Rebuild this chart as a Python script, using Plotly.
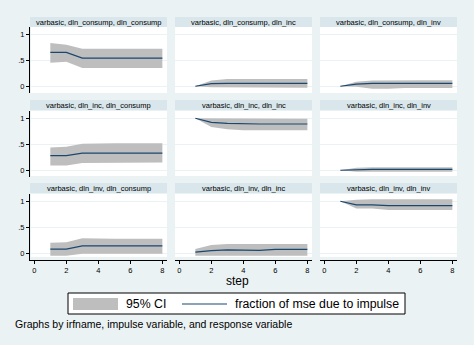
import plotly.graph_objects as go

W, H = 474, 345

steps = [1, 2, 3, 4, 5, 6, 7, 8]
irfname = "varbasic"
variables = ["dln_consump", "dln_inc", "dln_inv"]

# impulse dln_consump
cc_fevd = [0.65, 0.65, 0.54, 0.54, 0.54, 0.54, 0.54, 0.54]
cc_lo = [0.45, 0.47, 0.35, 0.35, 0.35, 0.35, 0.35, 0.35]
cc_hi = [0.83, 0.80, 0.72, 0.72, 0.72, 0.72, 0.72, 0.72]
ci_fevd = [0.0, 0.05, 0.055, 0.055, 0.055, 0.055, 0.055, 0.055]
ci_lo = [0.0, -0.02, -0.03, -0.03, -0.03, -0.03, -0.03, -0.03]
ci_hi = [0.0, 0.11, 0.14, 0.14, 0.14, 0.14, 0.14, 0.14]
cv_fevd = [0.0, 0.04, 0.055, 0.055, 0.055, 0.055, 0.055, 0.055]
cv_lo = [0.0, -0.01, -0.05, -0.05, -0.035, -0.035, -0.035, -0.035]
cv_hi = [0.0, 0.085, 0.11, 0.115, 0.115, 0.115, 0.115, 0.115]
# impulse dln_inc
ic_fevd = [0.28, 0.28, 0.33, 0.33, 0.33, 0.33, 0.33, 0.33]
ic_lo = [0.09, 0.09, 0.14, 0.15, 0.15, 0.15, 0.15, 0.15]
ic_hi = [0.44, 0.45, 0.51, 0.52, 0.52, 0.52, 0.52, 0.52]
ii_fevd = [1.0, 0.92, 0.90, 0.89, 0.89, 0.89, 0.89, 0.89]
ii_lo = [1.0, 0.83, 0.79, 0.77, 0.77, 0.77, 0.77, 0.77]
ii_hi = [1.0, 1.0, 0.99, 0.99, 0.99, 0.99, 0.99, 0.99]
iv_fevd = [0.0, 0.01, 0.015, 0.015, 0.015, 0.015, 0.015, 0.015]
iv_lo = [0.0, -0.03, -0.03, -0.03, -0.03, -0.03, -0.03, -0.03]
iv_hi = [0.0, 0.05, 0.06, 0.06, 0.06, 0.06, 0.06, 0.06]
# impulse dln_inv
vc_fevd = [0.08, 0.08, 0.14, 0.14, 0.14, 0.14, 0.14, 0.14]
vc_lo = [-0.05, -0.05, -0.01, -0.01, -0.01, -0.01, -0.01, -0.01]
vc_hi = [0.20, 0.21, 0.29, 0.28, 0.28, 0.28, 0.28, 0.28]
vi_fevd = [0.02, 0.05, 0.065, 0.055, 0.055, 0.075, 0.075, 0.075]
vi_lo = [-0.05, -0.05, -0.05, -0.05, -0.05, -0.05, -0.05, -0.05]
vi_hi = [0.08, 0.16, 0.18, 0.18, 0.18, 0.18, 0.18, 0.18]
vv_fevd = [1.0, 0.93, 0.93, 0.915, 0.915, 0.915, 0.915, 0.915]
vv_lo = [1.0, 0.86, 0.86, 0.83, 0.83, 0.83, 0.83, 0.83]
vv_hi = [1.0, 1.03, 1.04, 1.04, 1.04, 1.04, 1.04, 1.04]

panels = [
    [(cc_fevd, cc_lo, cc_hi), (ci_fevd, ci_lo, ci_hi), (cv_fevd, cv_lo, cv_hi)],
    [(ic_fevd, ic_lo, ic_hi), (ii_fevd, ii_lo, ii_hi), (iv_fevd, iv_lo, iv_hi)],
    [(vc_fevd, vc_lo, vc_hi), (vi_fevd, vi_lo, vi_hi), (vv_fevd, vv_lo, vv_hi)],
]

x_ticks = [0, 2, 4, 6, 8]
y_ticks = [0, 0.5, 1]
y_ticktext = ["0", ".5", "1"]

BG = "#EAF2F3"
STRIP = "#D9E6EB"
NAVY = "#1A476F"
GRAY = "#BEBEBE"
FONT = "Liberation Sans, Arial, sans-serif"

col_px = [(30, 167), (175, 312), (320, 457)]
row_px = [(27, 93), (111, 177), (194, 260)]
strip_px = [(17, 27), (100, 110), (183, 193)]
white_bottom = [93, 176, 257]

def px(x):
    return x / W

def py(y):
    return 1 - y / H

fig = go.Figure()
layout = {}
shapes = []
annotations = []

for r in range(3):
    for c in range(3):
        k = r * 3 + c + 1
        xa = "x" if k == 1 else f"x{k}"
        ya = "y" if k == 1 else f"y{k}"
        fv, lo, hi = panels[r][c]
        fig.add_trace(go.Scatter(
            x=steps + steps[::-1], y=hi + lo[::-1], fill="toself",
            fillcolor=GRAY, line=dict(width=0), mode="lines",
            hoverinfo="skip", showlegend=False, xaxis=xa, yaxis=ya))
        fig.add_trace(go.Scatter(
            x=steps, y=fv, mode="lines", line=dict(color=NAVY, width=1.2),
            hoverinfo="skip", showlegend=False, xaxis=xa, yaxis=ya))
        x0, x1 = col_px[c]
        y0, y1 = row_px[r]
        bottom = r == 2
        left = c == 0
        layout["xaxis" if k == 1 else f"xaxis{k}"] = dict(
            domain=[px(x0), px(x1)], range=[-0.27, 8.29], anchor=ya,
            showgrid=False, zeroline=False,
            showline=bottom, linecolor="black", linewidth=1,
            ticks="outside" if bottom else "", ticklen=3, tickcolor="black",
            tickvals=x_ticks, showticklabels=bottom,
            tickfont=dict(size=7.5, color="black", family=FONT),
        )
        layout["yaxis" if k == 1 else f"yaxis{k}"] = dict(
            domain=[py(y1), py(y0)], range=[-0.13, 1.14], anchor=xa,
            showgrid=True, gridcolor=BG, gridwidth=1, zeroline=False,
            showline=left, linecolor="black", linewidth=1,
            ticks="outside" if left else "", ticklen=3, tickcolor="black",
            tickvals=y_ticks, ticktext=y_ticktext, showticklabels=left,
            tickfont=dict(size=7.5, color="black", family=FONT),
        )
        wx0 = x0 + 1 if left else x0
        shapes.append(dict(type="rect", xref="paper", yref="paper", layer="below",
                           x0=px(wx0), x1=px(x1), y0=py(white_bottom[r]), y1=py(y0),
                           fillcolor="white", line=dict(width=0)))
        s0, s1 = strip_px[r]
        shapes.append(dict(type="rect", xref="paper", yref="paper", layer="below",
                           x0=px(x0), x1=px(x1), y0=py(s1), y1=py(s0),
                           fillcolor=STRIP, line=dict(width=0)))
        annotations.append(dict(
            xref="paper", yref="paper", x=px((x0 + x1) / 2), y=py((s0 + s1) / 2),
            text=f"{irfname}, {variables[r]}, {variables[c]}", showarrow=False,
            xanchor="center", yanchor="middle",
            font=dict(size=7.5, color="black", family=FONT)))

# x-axis title
annotations.append(dict(xref="paper", yref="paper", x=px(237), y=py(281),
                        text="step", showarrow=False, xanchor="center", yanchor="middle",
                        font=dict(size=12, color="black", family=FONT)))
# legend
shapes.append(dict(type="rect", xref="paper", yref="paper", x0=px(68), x1=px(405),
                   y0=py(314), y1=py(293), fillcolor="white",
                   line=dict(color="black", width=1)))
shapes.append(dict(type="rect", xref="paper", yref="paper", x0=px(73), x1=px(118),
                   y0=py(310), y1=py(298), fillcolor=GRAY, line=dict(width=0)))
shapes.append(dict(type="line", xref="paper", yref="paper", x0=px(182), x1=px(227),
                   y0=py(304), y1=py(304), line=dict(color=NAVY, width=1.2)))
annotations.append(dict(xref="paper", yref="paper", x=px(124), y=py(304),
                        text="95% CI", showarrow=False, xanchor="left", yanchor="middle",
                        font=dict(size=12.3, color="black", family=FONT)))
annotations.append(dict(xref="paper", yref="paper", x=px(233), y=py(304),
                        text="fraction of mse due to impulse", showarrow=False,
                        xanchor="left", yanchor="middle",
                        font=dict(size=12.3, color="black", family=FONT)))
annotations.append(dict(xref="paper", yref="paper", x=px(13), y=py(324),
                        text="Graphs by irfname, impulse variable, and response variable",
                        showarrow=False, xanchor="left", yanchor="middle",
                        font=dict(size=10.5, color="black", family=FONT)))

fig.update_layout(
    width=W, height=H, margin=dict(l=0, r=0, t=0, b=0),
    paper_bgcolor=BG, plot_bgcolor="rgba(0,0,0,0)",
    showlegend=False, shapes=shapes, annotations=annotations,
    font=dict(family=FONT, color="black"),
    **layout,
)

fig.write_html("out.html")
